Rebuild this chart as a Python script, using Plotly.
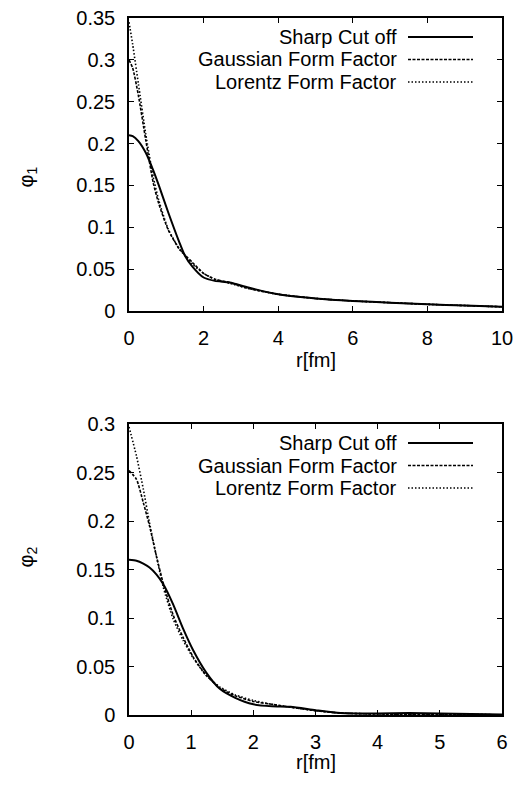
import plotly.graph_objects as go

# phi_1 (top panel)
r_top = [0, 0.1, 0.25, 0.45, 0.65, 0.8, 1.05, 1.35, 1.5, 1.7, 2.0, 2.3, 2.7, 3.2, 4.0, 5.0, 6.0, 7.0, 8.0, 9.0, 10.0]
sharp_top = [0.210, 0.209, 0.203, 0.189, 0.168, 0.150, 0.118, 0.082, 0.066, 0.053, 0.040, 0.036, 0.034, 0.028, 0.020, 0.015, 0.012, 0.010, 0.008, 0.0065, 0.005]
gauss_top = [0.300, 0.290, 0.258, 0.204, 0.153, 0.128, 0.097, 0.074, 0.067, 0.058, 0.045, 0.038, 0.034, 0.027, 0.020, 0.015, 0.012, 0.010, 0.008, 0.0065, 0.005]
lorentz_top = [0.345, 0.318, 0.272, 0.211, 0.160, 0.132, 0.098, 0.074, 0.066, 0.056, 0.045, 0.038, 0.033, 0.027, 0.020, 0.015, 0.012, 0.010, 0.008, 0.0065, 0.005]

# phi_2 (bottom panel)
r_bot = [0, 0.12, 0.23, 0.33, 0.44, 0.55, 0.71, 0.87, 1.03, 1.24, 1.46, 1.7, 2.0, 2.3, 2.6, 3.0, 3.4, 4.0, 4.5, 5.0, 5.5, 6.0]
sharp_bot = [0.160, 0.159, 0.156, 0.152, 0.145, 0.135, 0.114, 0.089, 0.067, 0.044, 0.027, 0.018, 0.011, 0.009, 0.0085, 0.005, 0.002, 0.0015, 0.002, 0.0015, 0.001, 0.0005]
gauss_bot = [0.252, 0.243, 0.219, 0.195, 0.164, 0.136, 0.103, 0.080, 0.060, 0.041, 0.028, 0.020, 0.014, 0.011, 0.008, 0.0045, 0.002, 0.001, 0.0008, 0.0006, 0.0004, 0.0003]
lorentz_bot = [0.297, 0.267, 0.233, 0.198, 0.164, 0.132, 0.099, 0.077, 0.059, 0.041, 0.029, 0.021, 0.015, 0.011, 0.008, 0.0045, 0.002, 0.001, 0.0008, 0.0006, 0.0004, 0.0003]

names = ["Sharp Cut off", "Gaussian Form Factor", "Lorentz Form Factor"]
dashes = ["solid", "3px,1.5px", "1.5px,2px"]
widths = [2, 1.6, 1.6]

FONT = "Liberation Sans, Arial, sans-serif"
FS = 20
# the page body has an 8px margin, so the figure is drawn 8px in from the window corner
OFF = 8
W, H = 522 - OFF, 787 - OFF

fig = go.Figure()

panels = [
    ("x", "y", r_top, [sharp_top, gauss_top, lorentz_top]),
    ("x2", "y2", r_bot, [sharp_bot, gauss_bot, lorentz_bot]),
]
for xa, ya, r, series in panels:
    for i in range(len(series)):
        fig.add_trace(go.Scatter(
            x=r, y=series[i], xaxis=xa, yaxis=ya, mode="lines",
            line=dict(color="black", width=widths[i], dash=dashes[i], shape="spline", smoothing=0.6),
            showlegend=False))

ax = dict(showgrid=False, zeroline=False, showline=True, linecolor="black", linewidth=1.5,
          mirror="ticks", ticks="inside", ticklen=5, tickcolor="black", tickwidth=1,
          automargin=False, ticklabeloverflow="allow",
          tickfont=dict(family=FONT, size=FS, color="black"))

# panel geometry in window pixels
x0, x1 = 129, 502
top_y0, top_y1 = 18, 311
bot_y0, bot_y1 = 424, 715

def px(x):
    return (x - OFF) / W

def py(y):
    return 1 - (y - OFF) / H

fig.update_layout(
    width=W, height=H, margin=dict(l=0, r=0, t=0, b=0),
    paper_bgcolor="white", plot_bgcolor="white",
    xaxis=dict(ax, domain=[px(x0), px(x1)], range=[0, 10], dtick=2, anchor="y", ticklabelstandoff=8),
    yaxis=dict(ax, domain=[py(top_y1), py(top_y0)], range=[0, 0.35], dtick=0.05, anchor="x", ticklabelstandoff=8),
    xaxis2=dict(ax, domain=[px(x0), px(x1)], range=[0, 6], dtick=1, anchor="y2", ticklabelstandoff=8),
    yaxis2=dict(ax, domain=[py(bot_y1), py(bot_y0)], range=[0, 0.3], dtick=0.05, anchor="x2", ticklabelstandoff=8),
)

# axis titles
for yc, lab in [((top_y0 + top_y1) / 2, "φ<sub>1</sub>"), ((bot_y0 + bot_y1) / 2, "φ<sub>2</sub>")]:
    fig.add_annotation(x=px(12), y=py(yc), xref="paper", yref="paper", text=lab, showarrow=False,
                       xanchor="left", textangle=-90, font=dict(family=FONT, size=FS, color="black"))
for yc in [360, 775]:
    fig.add_annotation(x=px((x0 + x1) / 2), y=py(yc), xref="paper", yref="paper", text="r[fm]",
                       showarrow=False, font=dict(family=FONT, size=FS, color="black"))

# key (gnuplot style: text right-aligned, sample to the right)
for xd, yd, span in [("x domain", "y domain", top_y1 - top_y0), ("x2 domain", "y2 domain", bot_y1 - bot_y0)]:
    for i in range(3):
        yrow = 1 - (19 + 22.5 * i) / span
        fig.add_annotation(x=(399 - x0) / (x1 - x0), y=yrow, xref=xd, yref=yd, text=names[i],
                           showarrow=False, xanchor="right", yanchor="middle",
                           font=dict(family=FONT, size=FS, color="black"))
        fig.add_shape(type="line", xref=xd, yref=yd, x0=(408 - x0) / (x1 - x0), x1=(473 - x0) / (x1 - x0),
                      y0=yrow, y1=yrow, line=dict(color="black", width=widths[i], dash=dashes[i]))

fig.write_html("out.html")
